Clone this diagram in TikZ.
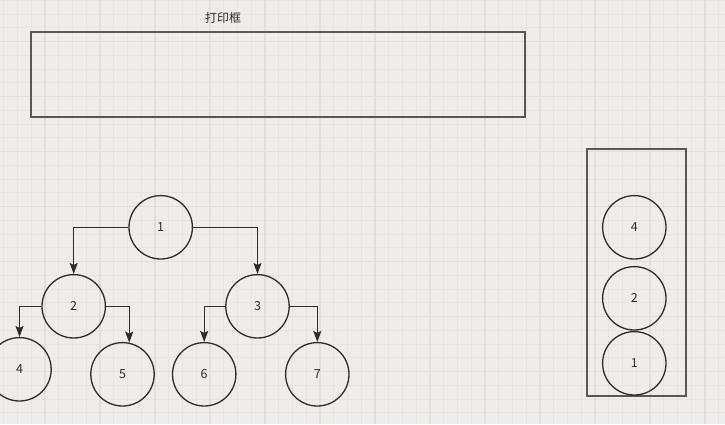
\documentclass[tikz,border=0pt]{standalone}
\usepackage{fontspec}
\setmainfont{Noto Sans CJK SC}
\usetikzlibrary{arrows.meta}
\definecolor{paper}{RGB}{239,237,235}
\definecolor{gridminor}{RGB}{231,228,226}
\definecolor{gridmajor}{RGB}{225,222,220}
\definecolor{ink}{RGB}{45,45,45}
\definecolor{frame}{RGB}{88,88,88}
\tikzset{
  treenode/.style={circle, draw=ink, line width=1.3pt, minimum size=63.4pt,
    inner sep=0pt, font=\fontsize{12.5}{14}\selectfont, text=ink},
  boxframe/.style={draw=frame, line width=1.4pt},
  link/.style={draw=ink, line width=1.4pt,
    -{Stealth[length=11pt,width=8pt,inset=2pt]}},
  caption/.style={font=\fontsize{12}{14}\selectfont, text=ink, inner sep=0pt}
}
\begin{document}
\begin{tikzpicture}[x=1pt,y=-1pt]
  % canvas and grid
  \useasboundingbox (0,0) rectangle (725,424);
  \clip (0,0) rectangle (725,424);
  \fill[paper] (0,0) rectangle (725,424);
  \foreach \i in {0,...,52} {
    \pgfmathsetmacro{\gx}{3.75+13.75*\i}
    \draw[gridminor, line width=0.9pt] (\gx,0) -- (\gx,424);
  }
  \foreach \i in {0,...,30} {
    \pgfmathsetmacro{\gy}{0.25+13.75*\i}
    \draw[gridminor, line width=0.9pt] (0,\gy) -- (725,\gy);
  }
  \foreach \i in {0,...,13} {
    \pgfmathsetmacro{\gx}{-10+55*\i}
    \draw[gridmajor, line width=1.1pt] (\gx,0) -- (\gx,424);
  }
  \foreach \i in {0,...,7} {
    \pgfmathsetmacro{\gy}{41.5+55*\i}
    \draw[gridmajor, line width=1.1pt] (0,\gy) -- (725,\gy);
  }

  % print area
  \node[caption] (printlabel) at (223,18) {打印框};
  \draw[boxframe] (31,32) rectangle (525,117);

  % binary tree
  \node[treenode] (n1) at (160.7,227.3) {1};
  \node[treenode] (n2) at (73.7,306.3) {2};
  \node[treenode] (n3) at (257.5,306.3) {3};
  \node[treenode] (n4) at (19.5,369.3) {4};
  \node[treenode] (n5) at (122.5,374.3) {5};
  \node[treenode] (n6) at (204.2,374.3) {6};
  \node[treenode] (n7) at (317.3,374.3) {7};

  \draw[link] (n1.west) -| (n2.north);
  \draw[link] (n1.east) -| (n3.north);
  \draw[link] (n2.west) -| (n4.north);
  \draw[link] (n2.east) -| (n5.78);
  \draw[link] (n3.west) -| (n6.north);
  \draw[link] (n3.east) -| (n7.north);

  % stack
  \draw[boxframe] (587,149) rectangle (686,396);
  \node[treenode] (s4) at (634.3,227.3) {4};
  \node[treenode] (s2) at (634.3,298.3) {2};
  \node[treenode] (s1) at (634.3,363.3) {1};
\end{tikzpicture}
\end{document}
